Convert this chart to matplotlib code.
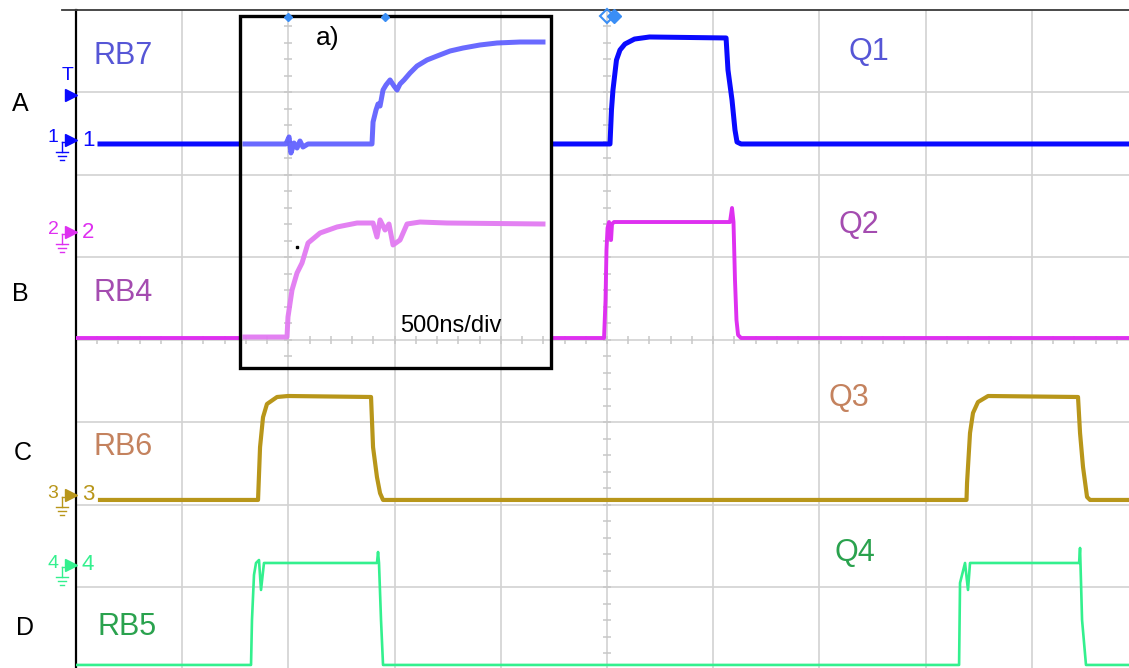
import numpy as np
import matplotlib
matplotlib.use('Agg')
import matplotlib.pyplot as plt
from matplotlib.patches import Rectangle
from matplotlib.lines import Line2D

plt.rcParams['font.family'] = ['Liberation Sans', 'DejaVu Sans']

W, H = 1129, 668

# ---------------- data (screen divisions: x = time div, y = vertical div) -------------
ch1_t = [-4.774, 0.028, 0.042, 0.056, 0.089, 0.122, 0.169, 0.259, 0.400, 1.121, 1.139, 1.177, 1.205, 1.224, 1.262, 4.915]
ch1_v = [2.376, 2.376, 2.788, 3.030, 3.394, 3.515, 3.588, 3.648, 3.673, 3.661, 3.273, 2.909, 2.545, 2.400, 2.376, 2.376]

ch2_t = [-5.0, -0.028, -0.014, -0.005, 0.005, 0.019, 0.038, 0.047, 0.066, 1.158, 1.177, 1.191, 1.205, 1.219, 1.234, 1.262, 4.915]
ch2_v = [0.024, 0.024, 0.485, 1.091, 1.358, 1.430, 1.212, 1.406, 1.430, 1.430, 1.600, 1.430, 0.727, 0.242, 0.061, 0.024, 0.024]

ch3_t = [-4.774, -3.286, -3.267, -3.239, -3.202, -3.107, -3.004, -2.222, -2.203, -2.166, -2.137, -2.109,
         3.385, 3.390, 3.418, 3.446, 3.493, 3.588, 4.435, 4.454, 4.482, 4.520, 4.548, 4.915]
ch3_v = [-1.939, -1.939, -1.299, -0.936, -0.776, -0.691, -0.679, -0.691, -1.299, -1.663, -1.857, -1.939,
         -1.939, -1.733, -1.127, -0.885, -0.752, -0.679, -0.691, -1.127, -1.539, -1.903, -1.939, -1.939]

ch4_t = [-5.0, -3.352, -3.343, -3.324, -3.305, -3.277, -3.258, -3.230, -2.166, -2.156, -2.147, -2.128, -2.109,
         3.315, 3.324, 3.371, 3.399, 3.418, 4.445, 4.454, 4.473, 4.510, 4.915]
ch4_v = [-3.939, -3.939, -3.394, -2.848, -2.703, -2.667, -3.030, -2.703, -2.703, -2.570, -2.703, -3.394, -3.939,
         -3.939, -2.945, -2.703, -3.030, -2.703, -2.703, -2.521, -3.394, -3.939, -3.939]

# inset a) traces (500 ns/div)
ins_blue_t = [-3.409, -3.023, -2.994, -2.976, -2.947, -2.919, -2.891, -2.863, -2.815, -2.213, -2.203, -2.175,
              -2.156, -2.137, -2.109, -2.081, -2.043, -2.006, -1.977, -1.949, -1.911, -1.855, -1.789, -1.695,
              -1.601, -1.478, -1.356, -1.196, -1.036, -0.819, -0.603]
ins_blue_v = [2.376, 2.376, 2.461, 2.267, 2.388, 2.327, 2.412, 2.339, 2.376, 2.376, 2.642, 2.788,
              2.861, 2.836, 3.030, 3.091, 3.152, 3.079, 3.030, 3.103, 3.152, 3.236, 3.321, 3.394,
              3.442, 3.503, 3.539, 3.576, 3.600, 3.612, 3.612]
ins_mag_t = [-3.409, -3.013, -3.004, -2.966, -2.919, -2.872, -2.815, -2.702, -2.542, -2.354, -2.203, -2.166,
             -2.137, -2.090, -2.053, -2.015, -1.949, -1.883, -1.761, -1.507, -0.603]
ins_mag_v = [0.036, 0.036, 0.279, 0.606, 0.812, 0.933, 1.176, 1.297, 1.370, 1.418, 1.418, 1.248,
             1.455, 1.333, 1.406, 1.152, 1.212, 1.406, 1.430, 1.418, 1.406]

trace_labels_left = ['RB7', 'RB4', 'RB6', 'RB5']
trace_labels_right = ['Q1', 'Q2', 'Q3', 'Q4']
row_letters = ['A', 'B', 'C', 'D']

C1, C2, C3, C4 = '#0a0aff', '#de30f0', '#b8961a', '#33f08e'
T1, T2, T3, T4 = '#5656d6', '#a44cb0', '#c4825e', '#2aa24e'
GRID = '#d2d2d2'

fig = plt.figure(figsize=(W / 100, H / 100), dpi=100)
ax = fig.add_axes([76 / W, 0, (W - 76) / W, (H - 10) / H])
ax.set_xlim(-5, 4.915)
ax.set_ylim(-3.976, 4)
ax.set_xticks(range(-4, 5))
ax.set_yticks(range(-3, 4))
ax.tick_params(length=0, labelbottom=False, labelleft=False)
ax.grid(True, color=GRID, lw=1.2)
ax.set_axisbelow(True)
for s in ['right', 'bottom']:
    ax.spines[s].set_visible(False)
ax.spines['left'].set_color('black')
ax.spines['left'].set_linewidth(1.6)
ax.spines['top'].set_color('#3a3a3a')
ax.spines['top'].set_linewidth(1.3)

# centre graticule ticks
yt = np.arange(-4, 4.01, 0.2)
xt = np.arange(-5, 4.95, 0.2)
ax.plot(np.zeros_like(yt), yt, ls='none', marker='_', ms=6, mew=1.1, color='#c8c8c8', zorder=1)
ax.plot(xt, np.zeros_like(xt), ls='none', marker='|', ms=6, mew=1.1, color='#c8c8c8', zorder=1)

# main traces
ax.plot(ch1_t, ch1_v, color=C1, lw=3.6, zorder=3)
ax.plot(ch2_t, ch2_v, color=C2, lw=2.8, zorder=3)
ax.plot(ch3_t, ch3_v, color=C3, lw=3.0, zorder=3)
ax.plot(ch4_t, ch4_v, color=C4, lw=1.9, zorder=3)

# inset a)
x0, x1, y0, y1 = -3.456, -0.527, -0.339, 3.927
rect = Rectangle((x0, y0), x1 - x0, y1 - y0, facecolor='white', edgecolor='none', zorder=5)
ax.add_patch(rect)
for xv in [-3, -2, -1]:
    l = ax.axvline(xv, color=GRID, lw=1.2, zorder=6)
    l.set_clip_path(rect)
for yv in [0, 1, 2, 3]:
    l = ax.axhline(yv, color=GRID, lw=1.2, zorder=6)
    l.set_clip_path(rect)
tk1, = ax.plot(np.full_like(yt, -3.0), yt, ls='none', marker='_', ms=6, mew=1.1, color='#c8c8c8', zorder=6)
tk1.set_clip_path(rect)
tk2, = ax.plot(xt, np.zeros_like(xt), ls='none', marker='|', ms=6, mew=1.1, color='#c8c8c8', zorder=6)
tk2.set_clip_path(rect)
lb, = ax.plot(ins_blue_t, ins_blue_v, color='#5a5aff', lw=3.6, alpha=0.9, zorder=7)
lb.set_clip_path(rect)
lm, = ax.plot(ins_mag_t, ins_mag_v, color='#e27af2', lw=3.6, alpha=0.95, zorder=7)
lm.set_clip_path(rect)
ax.plot([-2.919], [1.127], marker='s', ms=1.8, color='black', zorder=8)
ax.add_patch(Rectangle((x0, y0), x1 - x0, y1 - y0, facecolor='none', edgecolor='black', lw=2.4, zorder=8))
ax.text(-2.74, 3.655, 'a)', fontsize=19, color='black', ha='left', va='center', zorder=9)
ax.text(-1.95, 0.17, '500ns/div', fontsize=17, color='black', ha='left', va='center', zorder=9)

# trigger / cursor markers on top
ax.plot([-3.0, -2.09], [3.92, 3.92], ls='none', marker='D', ms=4.5, color='#3a8ef5', clip_on=False, zorder=9)
ax.plot([0.0], [3.93], ls='none', marker='D', ms=7, mfc='none', mec='#3a8ef5', mew=1.5, clip_on=False, zorder=9)
ax.plot([0.07], [3.93], ls='none', marker='D', ms=7, color='#3a8ef5', clip_on=False, zorder=9)


def fx(px):
    return px / W


def fy(py):
    return 1 - py / H


# trace labels
left_pos = [(93, 56), (93, 293), (93, 447), (98, 627)]
right_pos = [(848, 52), (838, 225), (829, 398), (834, 553)]
tcols = [T1, T2, T3, T4]
for lab, (px, py), c in zip(trace_labels_left, left_pos, tcols):
    fig.text(fx(px), fy(py), lab, fontsize=22, color=c, ha='left', va='center')
for lab, (px, py), c in zip(trace_labels_right, right_pos, tcols):
    fig.text(fx(px), fy(py), lab, fontsize=22, color=c, ha='left', va='center')

letter_pos = [(20, 104), (20, 294), (23, 453), (25, 628)]
for lab, (px, py) in zip(row_letters, letter_pos):
    fig.text(fx(px), fy(py), lab, fontsize=18, color='black', ha='center', va='center')

# top line extension
fig.add_artist(Line2D([fx(62), fx(77)], [fy(10), fy(10)], color='#3a3a3a', lw=1.3))

# channel ground markers on the left
ccols = [C1, C2, C3, C4]
marker_y = [140, 232, 495, 565]
for i, (c, py) in enumerate(zip(ccols, marker_y)):
    n = str(i + 1)
    fig.text(fx(53), fy(py - 2), n, fontsize=14, color=c, ha='center', va='center')
    fig.add_artist(Line2D([fx(62), fx(68)], [fy(py + 2), fy(py + 2)], color=c, lw=1.0))
    fig.add_artist(Line2D([fx(62), fx(62)], [fy(py + 2), fy(py + 12)], color=c, lw=1.0))
    for k, hw in enumerate([6, 4, 2]):
        fig.add_artist(Line2D([fx(62 - hw), fx(62 + hw)], [fy(py + 12 + 4 * k), fy(py + 12 + 4 * k)], color=c, lw=1.0))
    fig.add_artist(Line2D([fx(71)], [fy(py)], marker='>', ms=8, color=c, ls='none'))
    fig.text(fx(82), fy(py), n, fontsize=16, color=c, ha='left', va='center')

# trigger level marker
fig.text(fx(68), fy(75), 'T', fontsize=14, color=C1, ha='center', va='center')
fig.add_artist(Line2D([fx(71)], [fy(95)], marker='>', ms=8, color=C1, ls='none'))

fig.savefig('out.png', dpi=100)
